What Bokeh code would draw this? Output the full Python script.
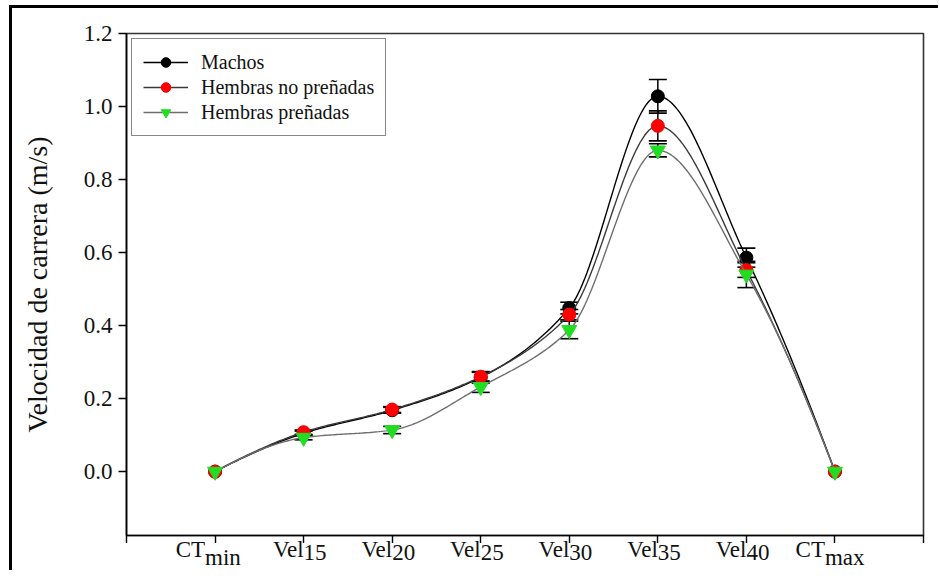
import numpy as np
from bokeh.plotting import figure
from bokeh.layouts import column
from bokeh.models import (Range1d, FixedTicker, Whisker, TeeHead, ColumnDataSource,
                          Legend, LegendItem)
from bokeh.core.properties import value
from bokeh.embed import file_html
from bokeh.resources import INLINE

# ---------------- data ----------------
label_main = ["CT", "Vel", "Vel", "Vel", "Vel", "Vel", "Vel", "CT"]
label_sub = ["min", "15", "20", "25", "30", "35", "40", "max"]
xpos = [1, 2, 3, 4, 5, 6, 7, 8]

machos = [0.0, 0.105, 0.168, 0.258, 0.448, 1.028, 0.586, 0.0]
machos_err = [0.0, 0.006, 0.008, 0.016, 0.016, 0.046, 0.026, 0.0]
hnp = [0.0, 0.108, 0.170, 0.260, 0.430, 0.947, 0.552, 0.0]
hnp_err = [0.0, 0.006, 0.008, 0.012, 0.014, 0.041, 0.020, 0.0]
hp = [0.0, 0.093, 0.114, 0.232, 0.388, 0.880, 0.540, 0.0]
hp_err = [0.0, 0.006, 0.010, 0.015, 0.024, 0.018, 0.036, 0.0]

series_names = ["Machos", "Hembras no preñadas", "Hembras preñadas"]
y_ticks = [0.0, 0.2, 0.4, 0.6, 0.8, 1.0, 1.2]

SERIF = "Liberation Serif"
W = 926
BL, BR = 114, 15


def pchip(xs, ys, n=40):
    xs = np.asarray(xs, float)
    ys = np.asarray(ys, float)
    h = np.diff(xs)
    d = np.diff(ys) / h
    m = np.zeros_like(ys)
    for k in range(1, len(xs) - 1):
        if d[k - 1] * d[k] > 0:
            w1 = 2 * h[k] + h[k - 1]
            w2 = h[k] + 2 * h[k - 1]
            m[k] = (w1 + w2) / (w1 / d[k - 1] + w2 / d[k])

    def endslope(h0, h1, d0, d1):
        s = ((2 * h0 + h1) * d0 - h0 * d1) / (h0 + h1)
        if np.sign(s) != np.sign(d0):
            s = 0.0
        elif np.sign(d0) != np.sign(d1) and abs(s) > abs(3 * d0):
            s = 3 * d0
        return s

    m[0] = endslope(h[0], h[1], d[0], d[1])
    m[-1] = endslope(h[-1], h[-2], d[-1], d[-2])
    ox, oy = [], []
    for k in range(len(xs) - 1):
        t = np.linspace(0, 1, n, endpoint=(k == len(xs) - 2))
        h00 = 2 * t**3 - 3 * t**2 + 1
        h10 = t**3 - 2 * t**2 + t
        h01 = -2 * t**3 + 3 * t**2
        h11 = t**3 - t**2
        yy = h00 * ys[k] + h10 * h[k] * m[k] + h01 * ys[k + 1] + h11 * h[k] * m[k + 1]
        ox.extend(xs[k] + t * h[k])
        oy.extend(yy)
    return ox, oy


xr = Range1d(0, 9)
p = figure(width=W, height=535, x_range=xr, y_range=Range1d(-0.175, 1.2),
           output_backend="svg", toolbar_location=None,
           min_border_left=BL, min_border_right=BR, min_border_top=25, min_border_bottom=0)

p.grid.visible = False
p.outline_line_color = "#333333"
p.outline_line_width = 1.6
p.background_fill_color = "white"

for ax in (p.xaxis[0], p.yaxis[0]):
    ax.axis_line_color = "black"
    ax.axis_line_width = 1.6
    ax.major_tick_line_color = "black"
    ax.major_tick_line_width = 1.4
    ax.major_tick_out = 8
    ax.major_tick_in = 0
    ax.minor_tick_line_color = None

p.xaxis.ticker = FixedTicker(ticks=list(range(0, 10)))
p.xaxis.major_label_text_font_size = "0px"
p.xaxis.major_label_text_alpha = 0
p.xaxis.major_label_standoff = 0

p.yaxis.ticker = FixedTicker(ticks=y_ticks)
p.yaxis.major_label_overrides = {t: f"{t:.1f}" for t in y_ticks}
p.yaxis.major_label_text_font = SERIF
p.yaxis.major_label_text_font_size = "23px"
p.yaxis.major_label_text_color = "#111111"
p.yaxis.major_label_standoff = 6
p.yaxis.axis_label = "Velocidad de carrera (m/s)"
p.yaxis.axis_label_text_font = SERIF
p.yaxis.axis_label_text_font_size = "28px"
p.yaxis.axis_label_text_font_style = "normal"
p.yaxis.axis_label_text_color = "#111111"
p.yaxis.axis_label_standoff = 28

styles = [
    dict(vals=machos, err=machos_err, line="#000000", fill="#000000", marker="circle", size=13),
    dict(vals=hnp, err=hnp_err, line="#3a3a3a", fill="#ff0000", marker="circle", size=13),
    dict(vals=hp, err=hp_err, line="#6e6e6e", fill="#22dd22", marker="inverted_triangle", size=15),
]

items = []
for name, st in zip(series_names, styles):
    cx, cy = pchip(xpos, st["vals"])
    lr = p.line(cx, cy, line_color=st["line"], line_width=1.4)
    src = ColumnDataSource(dict(x=xpos, y=st["vals"]))
    mr = p.scatter("x", "y", source=src, marker=st["marker"], size=st["size"],
                   fill_color=st["fill"], line_color=st["fill"], line_width=1)
    ex, lo, up = [], [], []
    for xi, v, e in zip(xpos, st["vals"], st["err"]):
        if e > 0:
            ex.append(xi)
            lo.append(v - e)
            up.append(v + e)
    wsrc = ColumnDataSource(dict(x=ex, lower=lo, upper=up))
    w = Whisker(base="x", lower="lower", upper="upper", source=wsrc,
                line_color="black", line_width=1.5,
                upper_head=TeeHead(size=18, line_color="black", line_width=1.6),
                lower_head=TeeHead(size=18, line_color="black", line_width=1.6))
    p.add_layout(w)
    items.append(LegendItem(label=name, renderers=[lr, mr]))

legend = Legend(items=items, location="top_left", label_text_font=SERIF,
                label_text_font_size="20px", label_text_color="#111111",
                glyph_width=45, glyph_height=24, label_height=24, spacing=1,
                padding=11, margin=5, label_standoff=13,
                border_line_color="#111111", border_line_width=1.5,
                background_fill_color="white", background_fill_alpha=1)
p.add_layout(legend)

# x tick labels with subscripts, drawn in a transparent strip below sharing the x range
p2 = figure(width=W, height=34, x_range=xr, y_range=Range1d(0, 34),
            output_backend="svg", toolbar_location=None,
            min_border_left=BL, min_border_right=BR, min_border_top=0, min_border_bottom=0)
p2.axis.visible = False
p2.grid.visible = False
p2.outline_line_color = None
p2.background_fill_alpha = 0
p2.border_fill_alpha = 0
p2.styles = {"margin-top": "-7px", "background": "transparent"}

offs = [-10 if m == "CT" else 0 for m in label_main]
src_lab = ColumnDataSource(dict(x=xpos, main=label_main, sub=label_sub, off=offs))
p2.text(x="x", y=34, text="main", source=src_lab, x_offset="off",
        text_align="right", text_baseline="top",
        text_font=value(SERIF), text_font_size="23px", text_color="#111111")
p2.text(x="x", y=26, text="sub", source=src_lab, x_offset="off",
        text_align="left", text_baseline="top",
        text_font=value(SERIF), text_font_size="23px", text_color="#111111")

layout = column(p, p2, spacing=0,
                styles={"margin-left": "9px", "margin-top": "5px",
                        "border-left": "3px solid black", "border-top": "3px solid black"})
open("out.html", "w").write(file_html(layout, INLINE))
